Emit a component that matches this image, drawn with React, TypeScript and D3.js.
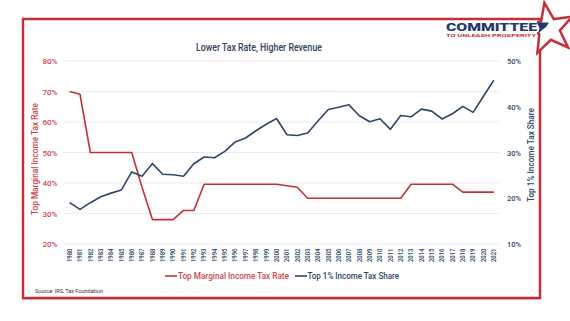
import React from "react";
import * as d3 from "d3";

const years: string[] = d3.range(1980, 2022).map(String);
const topRate: number[] = [
  70, 69.1, 50, 50, 50, 50, 50, 38.5, 28, 28, 28, 31, 31, 39.6, 39.6, 39.6, 39.6, 39.6, 39.6, 39.6, 39.6,
  39.1, 38.6, 35, 35, 35, 35, 35, 35, 35, 35, 35, 35, 39.6, 39.6, 39.6, 39.6, 39.6, 37, 37, 37, 37,
];
const topShare: number[] = [
  19.05, 17.58, 19.03, 20.32, 21.12, 21.81, 25.75, 24.81, 27.58, 25.24, 25.13, 24.82, 27.54, 29.01, 28.86,
  30.26, 32.31, 33.17, 34.75, 36.18, 37.42, 33.89, 33.71, 34.27, 36.89, 39.38, 39.89, 40.42, 38.02, 36.73,
  37.38, 35.06, 38.09, 37.8, 39.48, 39.04, 37.32, 38.47, 40.08, 38.77, 42.3, 45.8,
];
const leftTicks: number[] = [20, 30, 40, 50, 60, 70, 80];
const rightTicks: number[] = [10, 20, 30, 40, 50];

const RED = "#c4303a";
const RED_TXT = "#cc4750";
const NAVY = "#2d4767";
const FONT = "Roboto, 'Open Sans', sans-serif";

export default function App() {
  const W = 570;
  const H = 321;
  const x = d3.scaleBand<string>().domain(years).range([64.5, 499]).padding(0);
  const yL = d3.scaleLinear().domain([20, 80]).range([244, 61]);
  const yR = d3.scaleLinear().domain([10, 50]).range([244, 61]);
  const cx = (d: string) => (x(d) as number) + x.bandwidth() / 2;

  const redLine = d3
    .line<number>()
    .x((_, i) => cx(years[i]))
    .y((d) => yL(d))(topRate) as string;
  const blueLine = d3
    .line<number>()
    .x((_, i) => cx(years[i]))
    .y((d) => yR(d))(topShare) as string;

  // star
  const sc = [549, 29];
  const starPts: [number, number][] = [];
  for (let k = 0; k < 10; k++) {
    const r = k % 2 === 0 ? 26.5 : 11;
    const a = ((-10 + k * 36) * Math.PI) / 180;
    starPts.push([sc[0] + r * Math.sin(a), sc[1] - r * Math.cos(a)]);
  }

  return (
    <svg width={W} height={H} style={{ position: "absolute", left: 0, top: 0, background: "#fff" }}>
      <rect x={0} y={0} width={W} height={H} fill="#fff" />
      {/* frame */}
      <rect x={23} y={19} width={517} height={279} fill="none" stroke={RED} strokeWidth={2.5} />
      <line x1={22} x2={541} y1={299.5} y2={299.5} stroke="#e3a3a6" strokeWidth={1} />
      {/* logo star */}
      <polygon points={starPts.map((p) => p.join(",")).join(" ")} fill="#fff" stroke={RED} strokeWidth={2.5} strokeLinejoin="miter" />
      <rect x={444} y={21} width={93} height={17} fill="#fff" />
      <text x={446} y={30.8} fontFamily={FONT} fontWeight={900} fontSize={10.8} fill="#24396a" textLength={91} lengthAdjust="spacingAndGlyphs">
        COMMITTEE
      </text>
      <text x={446} y={36.8} fontFamily={FONT} fontWeight={700} fontSize={4.4} fill={RED} textLength={90} lengthAdjust="spacingAndGlyphs">
        TO UNLEASH PROSPERITY
      </text>
      <path d="M537,22.5 L549,22.5 L546,27 L542,30 L538,34 L539.5,28 Z" fill="#24396a" />

      {/* title */}
      <text x={259} y={51} textAnchor="middle" fontFamily={FONT} fontWeight={500} fontSize={10} fill="#2f4260" textLength={126} lengthAdjust="spacingAndGlyphs">
        Lower Tax Rate, Higher Revenue
      </text>

      {/* gridlines */}
      {leftTicks.map((t) => (
        <line key={"g" + t} x1={64.5} x2={499} y1={yL(t)} y2={yL(t)} stroke="#ebebeb" strokeWidth={1} />
      ))}
      {leftTicks.map((t) => (
        <text key={"l" + t} x={57.5} y={yL(t) + 3} textAnchor="end" fontFamily={FONT} fontWeight={500} fontSize={8} fill={RED_TXT} textLength={15} lengthAdjust="spacingAndGlyphs">
          {t + "%"}
        </text>
      ))}
      {rightTicks.map((t) => (
        <text key={"r" + t} x={507} y={yR(t) + 3} textAnchor="start" fontFamily={FONT} fontWeight={500} fontSize={8} fill={NAVY} textLength={14} lengthAdjust="spacingAndGlyphs">
          {t + "%"}
        </text>
      ))}
      {years.map((yv) => (
        <text
          key={"x" + yv}
          transform={`translate(${cx(yv) + 2.3},262) rotate(-90)`}
          textAnchor="start"
          fontFamily={FONT}
          fontWeight={500}
          fontSize={6.3}
          fill={NAVY}
          textLength={13.5}
          lengthAdjust="spacingAndGlyphs"
        >
          {yv}
        </text>
      ))}

      {/* axis titles */}
      <text transform="translate(38,159) rotate(-90)" textAnchor="middle" fontFamily={FONT} fontWeight={500} fontSize={8.5} fill={RED_TXT} textLength={112} lengthAdjust="spacingAndGlyphs">
        Top Marginal Income Tax Rate
      </text>
      <text transform="translate(534,155) rotate(-90)" textAnchor="middle" fontFamily={FONT} fontWeight={500} fontSize={8.5} fill={NAVY} textLength={94} lengthAdjust="spacingAndGlyphs">
        Top 1% Income Tax Share
      </text>

      {/* lines */}
      <path d={redLine} fill="none" stroke={RED} strokeWidth={1.6} strokeLinejoin="round" />
      <path d={blueLine} fill="none" stroke={NAVY} strokeWidth={1.6} strokeLinejoin="round" />

      {/* legend */}
      <line x1={165} x2={177} y1={276} y2={276} stroke={RED} strokeWidth={1.6} />
      <text x={178} y={279} fontFamily={FONT} fontWeight={500} fontSize={9} fill={RED_TXT} textLength={111} lengthAdjust="spacingAndGlyphs">
        Top Marginal Income Tax Rate
      </text>
      <line x1={295} x2={307} y1={276} y2={276} stroke={NAVY} strokeWidth={1.6} />
      <text x={307.5} y={279} fontFamily={FONT} fontWeight={500} fontSize={9} fill={NAVY} textLength={91.5} lengthAdjust="spacingAndGlyphs">
        Top 1% Income Tax Share
      </text>

      {/* source */}
      <text x={35} y={293} fontFamily={FONT} fontSize={5.2} fill="#333" textLength={68} lengthAdjust="spacingAndGlyphs">
        Source: IRS, Tax Foundation
      </text>
    </svg>
  );
}
